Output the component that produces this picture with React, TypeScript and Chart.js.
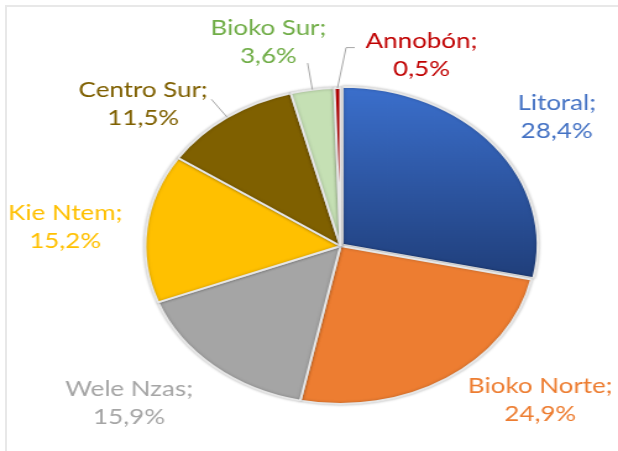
import React, { useEffect, useRef } from "react";
import { Chart, registerables } from "chart.js";

Chart.register(...registerables);

// ---- data ----
const regions = ["Litoral", "Bioko Norte", "Wele Nzas", "Kie Ntem", "Centro Sur", "Bioko Sur", "Annobón"];
const shares = [28.4, 24.9, 15.9, 15.2, 11.5, 3.6, 0.5];
const sliceColors = ["#2F5AA8", "#ED7D31", "#A5A5A5", "#FFC000", "#7F6000", "#C5E0B4", "#C00000"];
const labelColors = ["#4472C4", "#ED7D31", "#A5A5A5", "#FFC000", "#7F6000", "#70AD47", "#C00000"];

// ---- layout (not data) ----
const STRETCH = 1.236;
const CANVAS_W = 500;
const CANVAS_H = 451;
const PIE_RADIUS = 158;
const FONT = "21px Lato";
const LINE_GAP = 28;
// label anchor: [degrees clockwise from top, distance in radii]
const labelPlacement: [number, number][] = [
  [55.1, 1.35],
  [134.9, 1.444],
  [226.2, 1.5],
  [273.1, 1.412],
  [310.2, 1.323],
  [343.5, 1.3],
  [19.6, 1.236],
];

const toRad = (deg: number) => ((deg - 90) * Math.PI) / 180;

const labelPlugin = {
  id: "sliceLabels",
  beforeDatasetsDraw(chart: any) {
    const ctx = chart.ctx;
    ctx.save();
    ctx.shadowColor = "rgba(0,0,0,0.25)";
    ctx.shadowBlur = 3;
  },
  afterDatasetsDraw(chart: any) {
    const ctx = chart.ctx;
    ctx.restore();
    const meta = chart.getDatasetMeta(0);
    const arcs = meta.data;
    ctx.save();
    // leader lines
    ctx.strokeStyle = "#A6A6A6";
    ctx.lineWidth = 1;
    arcs.forEach((arc: any, i: number) => {
      const { x, y, outerRadius, startAngle, endAngle } = arc.getProps(
        ["x", "y", "outerRadius", "startAngle", "endAngle"],
        true
      );
      const mid = (startAngle + endAngle) / 2;
      const p0 = [x + outerRadius * Math.cos(mid), y + outerRadius * Math.sin(mid)];
      if (i === 4 || i === 5) {
        const f = i === 4 ? 1.14 : 1.17;
        ctx.beginPath();
        ctx.moveTo(p0[0], p0[1]);
        ctx.lineTo(x + outerRadius * f * Math.cos(mid), y + outerRadius * f * Math.sin(mid));
        ctx.stroke();
      } else if (i === 6) {
        const a = toRad(1.3);
        const p1 = [x + outerRadius * 1.256 * Math.cos(a), y + outerRadius * 1.256 * Math.sin(a)];
        ctx.beginPath();
        ctx.moveTo(p0[0], p0[1]);
        ctx.lineTo(p1[0], p1[1]);
        ctx.lineTo(p1[0] + 7, p1[1]);
        ctx.stroke();
      }
    });
    // labels
    ctx.font = FONT;
    ctx.textAlign = "center";
    ctx.textBaseline = "alphabetic";
    arcs.forEach((arc: any, i: number) => {
      const { x, y, outerRadius } = arc.getProps(["x", "y", "outerRadius"], true);
      const [deg, f] = labelPlacement[i];
      const a = toRad(deg);
      const ax = x + outerRadius * f * Math.cos(a);
      const ay = y + outerRadius * f * Math.sin(a);
      ctx.fillStyle = labelColors[i];
      ctx.fillText(regions[i] + ";", ax, ay - LINE_GAP / 2);
      ctx.fillText(shares[i].toFixed(1).replace(".", ",") + "%", ax, ay + LINE_GAP / 2);
    });
    ctx.restore();
  },
};

export default function App() {
  const ref = useRef<HTMLCanvasElement>(null);
  useEffect(() => {
    if (!ref.current) return;
    const chart = new Chart(ref.current, {
      type: "pie",
      data: {
        labels: regions,
        datasets: [
          {
            data: shares,
            backgroundColor: (c: any) => {
              const i = c.dataIndex;
              if (i === 0 && c.chart.chartArea) {
                const ca = c.chart.chartArea;
                const cy = (ca.top + ca.bottom) / 2;
                const g = c.chart.ctx.createLinearGradient(0, cy - PIE_RADIUS, 0, cy + PIE_RADIUS * 0.25);
                g.addColorStop(0, "#3B6FCC");
                g.addColorStop(1, "#1F3D78");
                return g;
              }
              return sliceColors[i];
            },
            borderColor: "#E6E6E6",
            borderWidth: 2,
            offset: [8, 0, 0, 0, 0, 0, 0],
          },
        ],
      },
      options: {
        responsive: false,
        maintainAspectRatio: false,
        devicePixelRatio: 1,
        animation: false,
        radius: PIE_RADIUS,
        layout: { padding: { left: 51, right: 0, top: 41, bottom: 0 } },
        plugins: { legend: { display: false }, tooltip: { enabled: false } },
      } as any,
      plugins: [labelPlugin],
    });
    return () => chart.destroy();
  }, []);

  return (
    <div
      style={{
        position: "fixed",
        left: 0,
        top: 0,
        width: 618,
        height: 451,
        overflow: "hidden",
        background: "#fff",
      }}
    >
      <canvas
        ref={ref}
        width={CANVAS_W}
        height={CANVAS_H}
        style={{ display: "block", transform: `scaleX(${STRETCH})`, transformOrigin: "0 0" }}
      />
      <div
        style={{
          position: "absolute",
          left: 5,
          top: 5,
          width: 700,
          height: 500,
          borderLeft: "2px solid #E8E8E8",
          borderTop: "2px solid #E8E8E8",
          pointerEvents: "none",
        }}
      />
    </div>
  );
}
